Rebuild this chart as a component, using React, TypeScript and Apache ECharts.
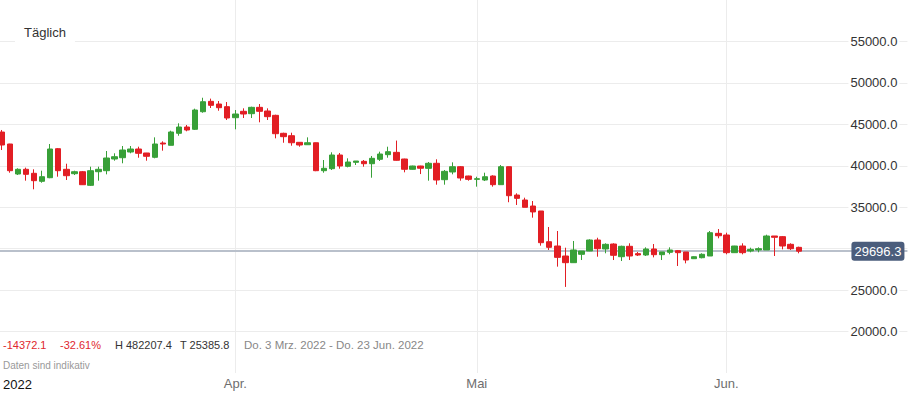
import React, { useEffect, useRef } from 'react';
import * as echarts from 'echarts';

const FONT = '"Liberation Sans", Arial, sans-serif';

const startDate = '2022-03-03';
const endDate = '2022-06-23';

const opens = [
  44068.4, 42626, 39008, 39574, 39092, 38127, 38560, 42060, 39574, 39044,
  39285, 37640, 39285, 39406, 40817, 40974, 41662, 42023, 41543, 41023,
  42746, 42470, 43920, 44678, 44400, 46520, 47775, 47450, 47130, 45800,
  46570, 46285, 47050, 46608, 46085, 43918, 43630, 42830, 42540, 42780,
  39406, 39650, 41300, 39932, 40415, 40535, 40250, 40780, 41340, 41620,
  40817, 39575, 39972, 39690, 40300, 38320, 39250, 39890, 38765, 38360,
  38284, 38765, 37720, 39890, 36470, 35870, 35145, 34545, 30840, 30320,
  29115, 28310, 29320, 29720, 31045, 29960, 30560, 29030, 30285, 29400,
  29235, 29960, 29275, 29560, 29760, 29600, 28790, 28910, 29115, 31850,
  31650, 29515, 30320, 29720, 29840, 29840, 31530, 31450, 30525, 30160,
];
const closes = [
  42506, 39406, 39574, 38967, 38203, 38682, 42023, 39406, 38803, 39285,
  37716, 39406, 39574, 40938, 41094, 41903, 42023, 41505, 41143, 42626,
  42626, 44076, 44678, 44316, 46728, 47730, 47292, 47005, 45764, 46245,
  46245, 47050, 46570, 45925, 43870, 43510, 42780, 42506, 42780, 39406,
  39695, 41300, 39972, 40455, 40575, 40250, 40900, 41420, 41700, 40660,
  39575, 39972, 39700, 40300, 38284, 39330, 39890, 38525, 38360, 38440,
  38680, 37720, 39890, 36390, 36070, 34990, 34430, 30720, 30160, 28950,
  28310, 29840, 29720, 31045, 29995, 30525, 29200, 30285, 29115, 29235,
  29960, 29275, 29600, 29840, 29515, 28630, 29030, 29320, 31925, 31560,
  29515, 30320, 29515, 29920, 30000, 31530, 31370, 30320, 29995, 29696.3,
];
const lows = [
  41900, 39164, 38887, 38203, 37161, 37958, 38500, 38682, 38284, 38887,
  37680, 37560, 38203, 38967, 40612, 40300, 41505, 40974, 40612, 40900,
  41822, 42470, 43625, 44160, 44316, 46400, 46970, 46640, 45522, 44400,
  45764, 45764, 45245, 45522, 43310, 42780, 42420, 42300, 42540, 39350,
  39164, 39490, 39650, 39810, 40093, 39890, 38560, 40575, 40975, 40610,
  39210, 39540, 39000, 38200, 37720, 37720, 38970, 38200, 38200, 37480,
  38160, 37480, 37700, 35600, 35270, 34990, 33740, 30360, 29840, 27830,
  25385.8, 28300, 28630, 29700, 29030, 29440, 28630, 28510, 28630, 29115,
  29115, 28950, 28630, 29320, 27910, 28230, 28750, 28830, 29115, 31250,
  29320, 29500, 29320, 29560, 29560, 29840, 29115, 29920, 29840, 29440,
];
const highs = [
  44320, 42650, 39695, 39776, 39574, 39406, 42626, 42144, 40250, 39406,
  39370, 39888, 39888, 41782, 41505, 42385, 42385, 42305, 41550, 43430,
  42948, 44230, 45124, 44920, 46890, 48207.4, 48100, 47815, 47690, 46728,
  46930, 47130, 47450, 46930, 46160, 43990, 43990, 42850, 43430, 42800,
  40696, 41625, 41543, 40900, 40575, 40696, 41180, 41700, 42300, 43040,
  40850, 40010, 40000, 40455, 40780, 39490, 40415, 39970, 38800, 38680,
  39165, 38850, 40090, 39900, 36680, 36150, 35750, 34545, 32615, 32130,
  30115, 30925, 29720, 31130, 31320, 30645, 30645, 30360, 30645, 29600,
  30160, 30560, 29600, 30160, 29840, 29600, 29080, 29440, 32130, 32370,
  31925, 30340, 30645, 30115, 30160, 31685, 31530, 31530, 30645, 30240,
];

const monthStarts = ['2022-04-01', '2022-05-01', '2022-06-01'];
const monthLabels = ['Apr.', 'Mai', 'Jun.'];
const yearLabel = '2022';

const yMin = 15000;
const yMax = 60000;
const yStep = 5000;
const yHiddenLabels = [30000];

const lastPrice = 29696.3;
const periodLabel = 'Täglich';
const statChange = '-14372.1';
const statPercent = '-32.61%';
const statHigh = 'H 482207.4';
const statLow = 'T 25385.8';
const statRange = 'Do. 3 Mrz. 2022 - Do. 23 Jun. 2022';
const disclaimer = 'Daten sind indikativ';

const UP = '#38a038';
const DOWN = '#e21e24';

function buildDates(start: string, end: string): string[] {
  const out: string[] = [];
  const d = new Date(start + 'T00:00:00Z');
  const e = new Date(end + 'T00:00:00Z');
  while (d.getTime() <= e.getTime()) {
    out.push(d.toISOString().slice(0, 10));
    d.setUTCDate(d.getUTCDate() + 1);
  }
  return out;
}

export default function App() {
  const ref = useRef<HTMLDivElement>(null);

  useEffect(() => {
    document.body.style.margin = '0';
    if (!ref.current) return;
    const chart = echarts.init(ref.current, undefined, { renderer: 'svg' });
    const dates = buildDates(startDate, endDate);
    const candles = opens.map((o, i) => [o, closes[i], lows[i], highs[i]]);

    const option: any = {
      animation: false,
      textStyle: { fontFamily: FONT },
      grid: {
        left: -2.17,
        right: 0.57,
        top: 0,
        bottom: 21,
        containLabel: false,
        outerBoundsMode: 'none',
      },
      xAxis: {
        type: 'category',
        data: dates,
        boundaryGap: true,
        axisLine: { show: false },
        axisTick: { show: false },
        splitLine: { show: false },
        axisLabel: {
          interval: (_i: number, v: string) => monthStarts.includes(v),
          formatter: (v: string) => {
            const k = monthStarts.indexOf(v);
            return k >= 0 ? monthLabels[k] : '';
          },
          color: '#6e6e6e',
          fontSize: 13,
          margin: 4,
          fontFamily: FONT,
        },
      },
      yAxis: {
        type: 'value',
        position: 'right',
        min: yMin,
        max: yMax,
        interval: yStep,
        axisLine: { show: false },
        axisTick: { show: false },
        splitLine: {
          show: true,
          showMinLine: false,
          showMaxLine: false,
          lineStyle: { color: '#ececec', width: 1 },
        },
        axisLabel: {
          inside: true,
          showMinLabel: false,
          showMaxLabel: false,
          formatter: (v: number) => (yHiddenLabels.includes(v) ? '' : v.toFixed(1)),
          color: '#333',
          fontSize: 13,
          margin: 8,
          backgroundColor: '#fff',
          padding: [1, 2],
          fontFamily: FONT,
        },
      },
      series: [
        {
          type: 'candlestick',
          data: candles,
          barWidth: 6,
          z: 2,
          itemStyle: {
            color: UP,
            color0: DOWN,
            borderColor: UP,
            borderColor0: DOWN,
            borderWidth: 1,
          },
          markLine: {
            silent: true,
            z: 1,
            animation: false,
            symbol: ['none', 'none'],
            lineStyle: { type: 'solid' },
            data: [
              ...monthStarts.map((d) => ({
                xAxis: d,
                lineStyle: { color: '#ececec', width: 1, type: 'solid' },
                label: { show: false },
              })),
              {
                yAxis: lastPrice,
                lineStyle: { color: '#b9c0cb', width: 2, type: 'solid' },
                label: {
                  show: true,
                  position: 'insideEnd',
                  distance: 3,
                  formatter: () => lastPrice.toFixed(1),
                  backgroundColor: '#4b5d7c',
                  color: '#fff',
                  fontSize: 13,
                  fontFamily: FONT,
                  padding: [3, 3],
                  borderRadius: 3,
                },
              },
            ],
          },
        },
      ],
      graphic: [
        {
          type: 'text',
          x: 15,
          y: 18,
          z: 10,
          style: {
            text: periodLabel,
            fill: '#333',
            fontSize: 13,
            fontFamily: FONT,
            backgroundColor: '#fff',
            padding: [8, 9, 3, 9],
          },
        },
        { type: 'text', x: 3, y: 344.5, z: 10, style: { text: statChange, fill: '#e0282e', fontSize: 11, fontFamily: FONT, verticalAlign: 'middle' } },
        { type: 'text', x: 60, y: 344.5, z: 10, style: { text: statPercent, fill: '#e0282e', fontSize: 11, fontFamily: FONT, verticalAlign: 'middle' } },
        { type: 'text', x: 115, y: 344.5, z: 10, style: { text: statHigh, fill: '#333', fontSize: 11, fontFamily: FONT, verticalAlign: 'middle' } },
        { type: 'text', x: 180, y: 344.5, z: 10, style: { text: statLow, fill: '#333', fontSize: 11, fontFamily: FONT, verticalAlign: 'middle' } },
        { type: 'text', x: 244, y: 344.5, z: 10, style: { text: statRange, fill: '#888', fontSize: 11.5, fontFamily: FONT, verticalAlign: 'middle' } },
        { type: 'text', x: 3, y: 365, z: 10, style: { text: disclaimer, fill: '#999', fontSize: 10, fontFamily: FONT, verticalAlign: 'middle' } },
        { type: 'text', x: 3, y: 384, z: 10, style: { text: yearLabel, fill: '#111', fontSize: 13, fontFamily: FONT, verticalAlign: 'middle' } },
      ],
    };

    chart.setOption(option);
    return () => chart.dispose();
  }, []);

  return (
    <div
      ref={ref}
      style={{ width: 908, height: 394, position: 'absolute', left: 0, top: 0 }}
    />
  );
}
